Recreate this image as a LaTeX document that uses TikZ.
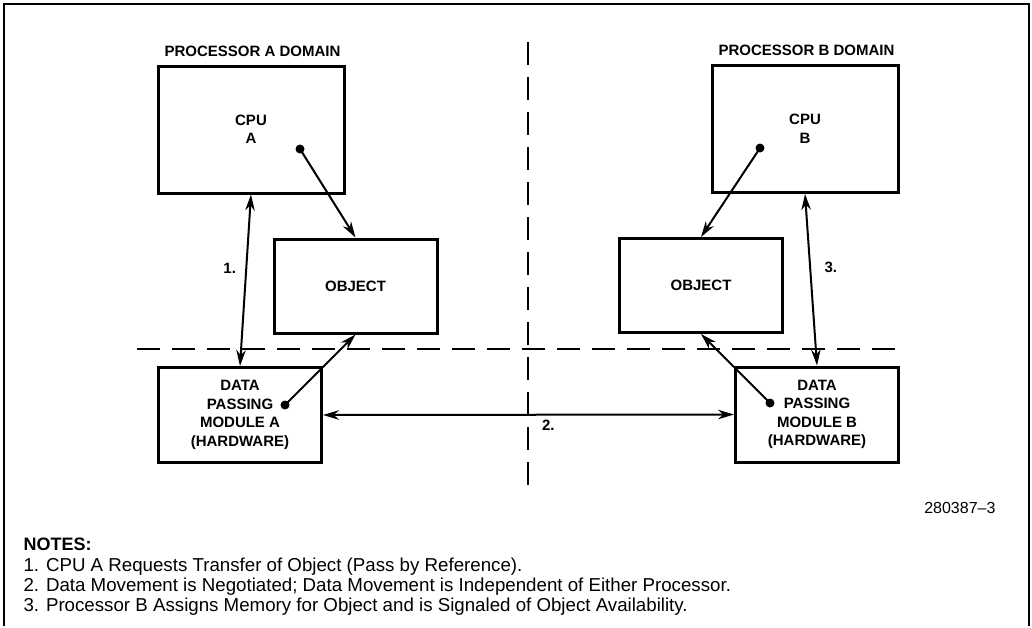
\documentclass[tikz,border=0pt]{standalone}
\usepackage{fontspec}
\setmainfont{Liberation Sans}
\usetikzlibrary{arrows.meta}

\begin{document}
\begin{tikzpicture}[
    x=1pt, y=-1pt,
    >={Stealth[length=16pt,width=9.5pt]},
    every node/.style={font=\fontsize{15}{18.5}\selectfont\bfseries},
    unit/.style={draw, line width=3pt, align=center, inner sep=0pt},
    cpu/.style={unit, minimum width=186pt, minimum height=127pt},
    object/.style={unit, minimum width=163pt, minimum height=94pt},
    dpm/.style={unit, minimum width=163pt, minimum height=95pt},
    link/.style={line width=2pt},
    boundary/.style={line width=2pt, dash pattern=on 23pt off 12pt},
    dot/.style={circle, fill, inner sep=0pt, minimum size=9pt},
    note/.style={anchor=base west, font=\fontsize{18.7}{20}\selectfont}
]

\useasboundingbox (0,0) rectangle (1032,627);

% ============================================================
% Rahmen
% ============================================================

\draw[line width=2pt] (4,626) -- (4,4) -- (1029,4) -- (1029,626);

% ============================================================
% Domaenengrenzen
% ============================================================

% Grenze zwischen Prozessor A und B
\draw[boundary] (528,42) -- (528,485);

% Grenze zwischen Software und Hardware
\draw[boundary] (137,349) -- (905,349);

% ============================================================
% Prozessor A
% ============================================================

\node[anchor=base west] (domA) at (161,56)
    {PROCESSOR A DOMAIN};

\node[cpu] (cpuA) at (251,129.5) {CPU\\A};
\node[object] (objA) at (355.5,286) {OBJECT};
\node[dpm] (dpmA) at (240,415)
    {DATA\\PASSING\\MODULE A\\(HARDWARE)};

\node[dot] (refA) at (300,149) {};
\node[dot] (moveA) at (285,405) {};

% ============================================================
% Prozessor B
% ============================================================

\node[anchor=base west] (domB) at (715,55)
    {PROCESSOR B DOMAIN};

\node[cpu] (cpuB) at (805,129) {CPU\\B};
\node[object] (objB) at (701,285.5) {OBJECT};
\node[dpm] (dpmB) at (817,414.5)
    {DATA\\PASSING\\MODULE B\\(HARDWARE)};

\node[dot] (refB) at (760,148) {};
\node[dot] (moveB) at (770,403) {};

% ============================================================
% Verbindungen
% ============================================================

% Schritt 1
\draw[link,<->] (dpmA.north) -- (cpuA.south)
    node[pos=0.57, left=6pt] (stepA) {1.};

% Schritt 2
\draw[link,<->] (dpmA.east) -- (dpmB.east -| dpmB.west)
    node[pos=0.52, below right=1pt] (stepB) {2.};

% Schritt 3
\draw[link,<->] (cpuB.south) -- (dpmB.north)
    node[pos=0.43, right=10pt] (stepC) {3.};

% Referenzen auf das Objekt
\draw[link,->] (refA.center) -- (objA.north);
\draw[link,->] (moveA.center) -- (objA.south);
\draw[link,->] (refB.center) -- (objB.north);
\draw[link,->] (moveB.center) -- (objB.south);

% ============================================================
% Anmerkungen
% ============================================================

\node[anchor=base east, font=\fontsize{16}{18}\selectfont] (figno)
    at (999,513) {280387--3};

\node[note, font=\fontsize{18}{20}\selectfont\bfseries] (notes)
    at (20,550) {NOTES:};
\node[note] (noteA) at (20,571)
    {1. CPU A Requests Transfer of Object (Pass by Reference).};
\node[note] (noteB) at (20,591)
    {2. Data Movement is Negotiated; Data Movement is Independent of Either Processor.};
\node[note] (noteC) at (20,611)
    {3. Processor B Assigns Memory for Object and is Signaled of Object Availability.};

\end{tikzpicture}
\end{document}
